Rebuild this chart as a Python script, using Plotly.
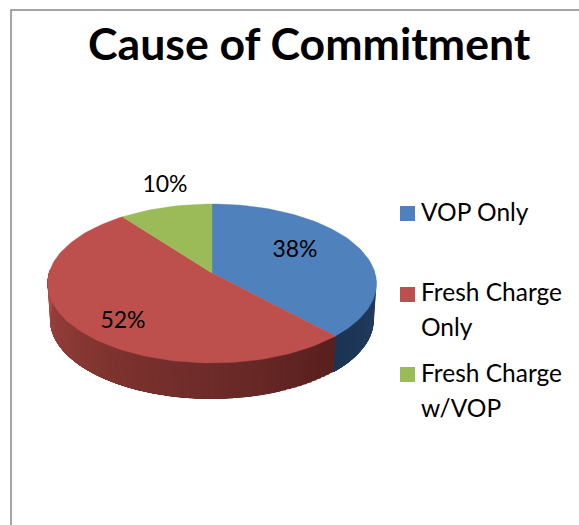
import math
import plotly.graph_objects as go

# ---- data ----
categories = ["VOP Only", "Fresh Charge<br>Only", "Fresh Charge<br>w/VOP"]
values = [38.0, 51.6, 10.4]
title_text = "Cause of Commitment"
top_colors = ["#4f81bd", "#bd4f4c", "#9bbb59"]

# ---- pie geometry (in pixel-like axis units) ----
CX, CY = 212.0, 273.0
RX, RY, PERSP = 163.0, 78.1, 0.132
DEPTH = 36.0
BOTTOM_SHRINK = 0.985


def rim(frac, bottom=False):
    th = 2 * math.pi * frac
    u, v = math.sin(th), math.cos(th)
    w = 1 + PERSP * v
    x, y = RX * u / w, -RY * v / w
    if bottom:
        return CX + x * BOTTOM_SHRINK, CY + y + DEPTH
    return CX + x, CY + y


def lerp_color(stops, t):
    for (t0, c0), (t1, c1) in zip(stops, stops[1:]):
        if t <= t1:
            f = (t - t0) / (t1 - t0) if t1 > t0 else 0
            return "rgb(%d,%d,%d)" % tuple(round(a + (b - a) * f) for a, b in zip(c0, c1))
    return "rgb(%d,%d,%d)" % stops[-1][1]


fig = go.Figure()


def add_poly(xs, ys, color, line=0.0):
    fig.add_trace(go.Scatter(x=xs, y=ys, mode="lines", fill="toself", fillcolor=color,
                             line=dict(color=color, width=line), hoverinfo="skip",
                             showlegend=False))


def side_strip(a, b, color):
    # each strip runs on underneath the next one, so no seams show between them
    n = 6
    top = [rim(a + (b - a) * k / n) for k in range(n + 1)]
    bot = [rim(a + (b - a) * k / n, True) for k in range(n, -1, -1)]
    pts = top + bot + top[:1]
    add_poly([p[0] for p in pts], [p[1] for p in pts], color)


total = sum(values)
fracs = [v / total for v in values]
f_blue = fracs[0]

# side wall, blue part (from right silhouette to slice boundary)
start_blue = 0.245
side_end_red = 0.755
steps_blue = 12
for i in range(steps_blue):
    a = start_blue + (f_blue - start_blue) * i / steps_blue
    side_strip(a, f_blue, lerp_color([(0, (36, 62, 100)), (1, (28, 52, 84))], i / (steps_blue - 1)))

# side wall, red part, shaded; painted from the left silhouette towards the boundary
red_stops = [(0, (88, 32, 30)), (0.3, (108, 42, 40)), (0.6, (128, 52, 48)),
             (0.85, (150, 62, 58)), (1, (178, 74, 70))]
steps_red = 70
for i in range(steps_red):
    a = f_blue + (side_end_red - f_blue) * i / steps_red
    side_strip(a, side_end_red, lerp_color(red_stops, i / (steps_red - 1)))

# top faces
start = 0.0
for val, col in zip(fracs, top_colors):
    n = max(8, int(val * 200))
    pts = [rim(start + val * k / n) for k in range(n + 1)]
    xs = [CX] + [p[0] for p in pts] + [CX]
    ys = [CY] + [p[1] for p in pts] + [CY]
    add_poly(xs, ys, col, line=0.4)
    start += val

# percent labels
label_x = [295, 123, 165]
label_y = [251, 322, 186]
fig.add_trace(go.Scatter(x=label_x, y=label_y, mode="text",
                         text=[f"{round(v)}%" for v in values],
                         textposition="middle center",
                         textfont=dict(family="Lato", size=23, color="#000"),
                         hoverinfo="skip", showlegend=False))

# legend
legend_x = [407.5, 407.5, 407.5]
legend_y = [213.5, 294.5, 374.5]
legend_text_y = [[211], [291, 326], [372, 407]]
fig.add_trace(go.Scatter(x=legend_x, y=legend_y, mode="markers",
                         marker=dict(symbol="square", size=15, color=top_colors, line_width=0),
                         hoverinfo="skip", showlegend=False))
for ys, txt in zip(legend_text_y, categories):
    for yy, part in zip(ys, txt.split("<br>")):
        fig.add_annotation(x=422, y=yy, xref="x", yref="y", text=part, showarrow=False,
                           xanchor="left", yanchor="middle", align="left", xshift=-3,
                           font=dict(family="Lato", size=24.5, color="#000"))

fig.add_annotation(x=309, y=42, xref="x", yref="y", text=f"<b>{title_text}</b>", showarrow=False,
                   xanchor="center", yanchor="middle",
                   font=dict(family="Lato", size=44.6, color="#000"))

# chart frame
fig.add_shape(type="rect", x0=11, y0=10, x1=640, y1=600, xref="x", yref="y",
              line=dict(color="#868686", width=1.5), layer="below")

fig.update_layout(
    width=579, height=525, margin=dict(l=0, r=0, t=0, b=0),
    paper_bgcolor="white", plot_bgcolor="white", showlegend=False,
    xaxis=dict(range=[0, 579], visible=False, fixedrange=True),
    yaxis=dict(range=[525, 0], visible=False, fixedrange=True),
)
fig.write_html("out.html", config={"displayModeBar": False},
               post_script="document.body.style.margin='0';")
